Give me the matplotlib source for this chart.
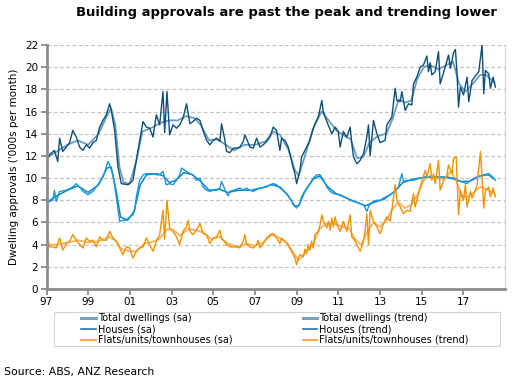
import matplotlib.pyplot as plt
from matplotlib.lines import Line2D
from matplotlib.patches import Rectangle

# Total dwellings, seasonally adjusted ('000s per month)
total_sa_t = [1997.00, 1997.14, 1997.38, 1997.54, 1997.63, 1997.78, 1997.95, 1998.11, 1998.26, 1998.43,
              1998.59, 1998.75, 1998.91, 1999.07, 1999.23, 1999.39, 1999.55, 1999.71, 1999.87, 2000.03,
              2000.11, 2000.27, 2000.43, 2000.59, 2000.91, 2001.15, 2001.31, 2001.63, 2001.79, 2001.95,
              2002.11, 2002.27, 2002.43, 2002.59, 2002.67, 2002.78, 2002.91, 2003.07, 2003.24, 2003.39,
              2003.55, 2003.72, 2003.88, 2004.03, 2004.20, 2004.36, 2004.51, 2004.68, 2004.84, 2005.00,
              2005.16, 2005.32, 2005.40, 2005.56, 2005.64, 2005.80, 2005.96, 2006.12, 2006.28, 2006.44,
              2006.52, 2006.76, 2006.92, 2007.08, 2007.24, 2007.40, 2007.56, 2007.72, 2007.88, 2008.04,
              2008.20, 2008.28, 2008.44, 2008.60, 2008.76, 2008.84, 2008.92, 2009.00, 2009.08, 2009.16,
              2009.24, 2009.48, 2009.64, 2009.72, 2009.88, 2010.04, 2010.21, 2010.28, 2010.45, 2010.69,
              2010.85, 2011.00, 2011.09, 2011.24, 2011.41, 2011.57, 2011.65, 2011.73, 2011.89, 2012.05,
              2012.21, 2012.37, 2012.45, 2012.53, 2012.69, 2012.85, 2013.01, 2013.25, 2013.33, 2013.57,
              2013.73, 2013.81, 2013.97, 2014.05, 2014.21, 2014.37, 2014.53, 2014.61, 2014.77, 2014.93,
              2015.09, 2015.25, 2015.33, 2015.41, 2015.49, 2015.65, 2015.81, 2015.89, 2016.13, 2016.29,
              2016.38, 2016.53, 2016.62, 2016.70, 2016.77, 2016.86, 2017.01, 2017.18, 2017.26, 2017.42,
              2017.66, 2017.74, 2017.90, 2017.98, 2018.06, 2018.22, 2018.30, 2018.43, 2018.54]
total_sa = [11.5, 12.1, 12.5, 11.5, 13.6, 12.4, 12.8, 13.2, 14.3, 13.7,
            12.8, 12.5, 13.0, 12.7, 13.2, 13.4, 14.6, 15.2, 15.7, 16.7,
            16.1, 14.3, 11.0, 9.5, 9.4, 9.8, 11.6, 15.1, 14.6, 14.5,
            13.7, 15.7, 14.8, 17.8, 14.1, 17.8, 13.9, 14.8, 14.5, 14.8,
            15.4, 16.7, 14.9, 15.1, 15.4, 15.2, 14.3, 13.4, 13.0, 13.4,
            13.6, 13.3, 14.9, 13.4, 12.4, 12.3, 12.7, 12.7, 12.8, 13.3,
            13.9, 12.8, 12.7, 13.6, 12.8, 13.0, 13.3, 13.7, 14.6, 14.3,
            12.5, 13.6, 13.4, 12.8, 11.6, 10.9, 10.4, 9.5, 10.1, 10.7,
            11.9, 12.8, 13.4, 14.0, 14.9, 15.5, 17.0, 16.0, 15.1, 14.0,
            14.6, 14.2, 12.8, 14.2, 13.7, 14.6, 13.1, 11.9, 11.3, 11.6,
            12.2, 13.7, 14.8, 12.0, 15.2, 14.0, 13.2, 13.4, 14.8, 15.5,
            18.1, 17.0, 16.9, 17.8, 16.1, 16.7, 16.6, 18.5, 19.1, 20.0,
            20.2, 21.0, 19.6, 20.4, 19.3, 19.6, 21.4, 18.5, 20.0, 21.1,
            19.9, 21.3, 21.6, 19.4, 16.4, 18.2, 17.5, 19.1, 16.9, 18.8,
            19.4, 19.6, 22.0, 17.6, 19.7, 19.4, 18.1, 19.1, 18.2]

# Total dwellings, trend
total_tr_t = [1997.0, 1997.5, 1998.0, 1998.5, 1999.0, 1999.5, 1999.9, 2000.1, 2000.3, 2000.5,
              2000.7, 2001.0, 2001.3, 2001.6, 2002.0, 2002.5, 2002.9, 2003.3, 2003.7, 2004.1,
              2004.4, 2004.8, 2005.2, 2005.6, 2006.0, 2006.5, 2007.0, 2007.5, 2007.9, 2008.2,
              2008.6, 2008.9, 2009.1, 2009.4, 2009.8, 2010.2, 2010.5, 2010.9, 2011.3, 2011.6,
              2011.9, 2012.2, 2012.5, 2012.9, 2013.3, 2013.6, 2013.9, 2014.2, 2014.5, 2014.8,
              2015.1, 2015.4, 2015.8, 2016.2, 2016.5, 2016.8, 2017.1, 2017.5, 2017.8, 2018.1,
              2018.5]
total_tr = [11.8, 12.4, 13.0, 13.4, 13.0, 14.0, 15.6, 16.3, 14.8, 11.0,
            9.6, 9.5, 11.5, 14.2, 14.5, 15.0, 15.2, 15.2, 15.6, 15.4,
            14.8, 13.4, 13.5, 13.0, 12.5, 13.0, 13.0, 13.3, 14.2, 13.9,
            12.6, 10.8, 10.2, 12.0, 14.5, 16.0, 15.3, 14.3, 13.8, 13.5,
            11.8, 11.9, 13.2, 13.8, 14.0, 15.3, 17.1, 16.8, 17.0, 19.0,
            20.0, 20.2, 19.8, 20.2, 20.5, 18.5, 17.8, 18.6, 19.3, 19.3,
            18.6]

# Houses, seasonally adjusted
houses_sa_t = [1997.00, 1997.14, 1997.30, 1997.38, 1997.47, 1997.63, 1997.95, 1998.26, 1998.43, 1998.59,
               1998.75, 1998.99, 1999.23, 1999.47, 1999.71, 1999.87, 1999.95, 2000.03, 2000.19, 2000.35,
               2000.51, 2000.67, 2000.83, 2000.99, 2001.15, 2001.23, 2001.31, 2001.47, 2001.63, 2001.79,
               2002.11, 2002.27, 2002.43, 2002.59, 2002.75, 2002.91, 2003.07, 2003.24, 2003.39, 2003.48,
               2003.72, 2003.88, 2004.03, 2004.20, 2004.36, 2004.51, 2004.68, 2004.84, 2005.00, 2005.16,
               2005.32, 2005.40, 2005.64, 2005.72, 2005.80, 2005.96, 2006.28, 2006.44, 2006.60, 2006.76,
               2006.92, 2007.24, 2007.56, 2007.72, 2007.88, 2008.04, 2008.20, 2008.36, 2008.52, 2008.68,
               2008.84, 2009.00, 2009.16, 2009.24, 2009.32, 2009.48, 2009.64, 2009.80, 2009.97, 2010.13,
               2010.29, 2010.45, 2010.61, 2010.76, 2011.09, 2011.41, 2011.57, 2011.73, 2012.05, 2012.21,
               2012.37, 2012.45, 2012.53, 2012.69, 2012.85, 2013.01, 2013.17, 2013.49, 2013.73, 2013.89,
               2014.05, 2014.13, 2014.29, 2014.61, 2014.93, 2015.25, 2015.57, 2015.89, 2016.22, 2016.53,
               2016.86, 2017.18, 2017.34, 2017.66, 2017.98, 2018.22, 2018.46, 2018.54]
houses_sa = [7.6, 7.9, 8.0, 8.9, 7.9, 8.8, 8.9, 9.2, 9.5, 9.2,
             8.8, 8.5, 8.8, 9.4, 10.1, 11.0, 11.5, 11.2, 10.3, 8.3,
             6.1, 6.2, 6.2, 6.5, 6.7, 7.1, 8.3, 9.8, 10.3, 10.4,
             10.4, 10.3, 10.3, 10.6, 9.4, 9.5, 9.4, 9.8, 10.3, 10.9,
             10.6, 10.4, 10.3, 9.8, 10.0, 9.2, 8.9, 8.8, 8.9, 8.9,
             9.1, 9.7, 8.6, 8.4, 8.8, 8.9, 9.1, 8.9, 9.1, 8.9,
             8.8, 9.1, 9.2, 9.4, 9.5, 9.4, 9.1, 8.9, 8.6, 8.2,
             7.6, 7.3, 7.7, 8.3, 8.6, 9.1, 9.5, 10.0, 10.3, 10.3,
             9.8, 9.2, 8.8, 8.6, 8.5, 8.2, 8.0, 7.9, 7.7, 7.6,
             7.0, 7.4, 7.7, 7.9, 8.0, 8.0, 8.2, 8.5, 8.8, 9.2,
             10.4, 9.7, 9.8, 9.8, 10.0, 10.1, 10.1, 10.1, 10.1, 10.0,
             9.7, 9.5, 9.8, 10.1, 10.3, 10.4, 10.0, 9.8]

# Houses, trend
houses_tr_t = [1997.0, 1997.5, 1998.0, 1998.5, 1999.0, 1999.5, 1999.9, 2000.1, 2000.35, 2000.55,
               2000.9, 2001.2, 2001.5, 2001.8, 2002.3, 2002.6, 2002.9, 2003.2, 2003.6, 2004.0,
               2004.4, 2004.8, 2005.3, 2005.7, 2006.2, 2006.8, 2007.3, 2007.8, 2008.2, 2008.6,
               2008.9, 2009.1, 2009.4, 2009.8, 2010.1, 2010.5, 2010.9, 2011.4, 2011.9, 2012.3,
               2012.7, 2013.2, 2013.7, 2014.1, 2014.6, 2015.2, 2015.8, 2016.4, 2016.9, 2017.3,
               2017.8, 2018.2, 2018.5]
houses_tr = [7.8, 8.4, 8.9, 9.3, 8.7, 9.4, 10.9, 11.0, 8.8, 6.5,
             6.2, 7.0, 9.4, 10.3, 10.4, 10.2, 9.6, 9.8, 10.5, 10.3,
             9.7, 8.9, 9.0, 8.7, 8.9, 8.9, 9.1, 9.4, 9.2, 8.4,
             7.5, 7.5, 8.8, 9.9, 10.2, 9.2, 8.6, 8.2, 7.8, 7.5,
             7.8, 8.1, 8.8, 9.6, 9.9, 10.1, 10.1, 10.0, 9.7, 9.7,
             10.2, 10.3, 9.9]

# Flats/units/townhouses, seasonally adjusted
flats_sa_t = [1997.00, 1997.06, 1997.14, 1997.30, 1997.47, 1997.63, 1997.78, 1997.95, 1998.11, 1998.26,
              1998.43, 1998.59, 1998.75, 1998.91, 1999.07, 1999.23, 1999.39, 1999.55, 1999.71, 1999.87,
              2000.03, 2000.19, 2000.35, 2000.51, 2000.67, 2000.83, 2000.99, 2001.15, 2001.31, 2001.47,
              2001.63, 2001.79, 2001.95, 2002.11, 2002.27, 2002.43, 2002.59, 2002.67, 2002.78, 2002.91,
              2003.07, 2003.24, 2003.39, 2003.55, 2003.72, 2003.80, 2003.88, 2004.03, 2004.20, 2004.36,
              2004.51, 2004.68, 2004.84, 2005.00, 2005.16, 2005.32, 2005.40, 2005.64, 2005.80, 2006.12,
              2006.28, 2006.44, 2006.52, 2006.60, 2006.76, 2006.92, 2007.08, 2007.16, 2007.24, 2007.40,
              2007.56, 2007.72, 2007.88, 2008.04, 2008.20, 2008.28, 2008.44, 2008.60, 2008.76, 2008.92,
              2009.00, 2009.08, 2009.16, 2009.32, 2009.40, 2009.48, 2009.56, 2009.64, 2009.72, 2009.80,
              2009.88, 2010.04, 2010.13, 2010.21, 2010.28, 2010.45, 2010.53, 2010.61, 2010.69, 2010.76,
              2010.85, 2010.93, 2011.09, 2011.24, 2011.41, 2011.57, 2011.65, 2011.81, 2011.97, 2012.05,
              2012.21, 2012.29, 2012.37, 2012.45, 2012.53, 2012.69, 2012.85, 2013.01, 2013.17, 2013.33,
              2013.49, 2013.57, 2013.73, 2013.81, 2013.97, 2014.13, 2014.29, 2014.45, 2014.61, 2014.69,
              2014.85, 2015.01, 2015.17, 2015.25, 2015.41, 2015.49, 2015.57, 2015.65, 2015.81, 2015.89,
              2016.05, 2016.22, 2016.29, 2016.46, 2016.53, 2016.66, 2016.77, 2016.86, 2017.01, 2017.10,
              2017.18, 2017.34, 2017.42, 2017.58, 2017.66, 2017.82, 2017.90, 2017.98, 2018.06, 2018.22,
              2018.30, 2018.43, 2018.54]
flats_sa = [4.0, 4.6, 3.8, 3.8, 3.7, 4.6, 3.5, 4.1, 4.3, 4.9,
            4.4, 4.0, 3.7, 4.6, 4.3, 4.4, 3.8, 4.7, 4.4, 4.4,
            5.2, 4.6, 4.3, 3.7, 3.1, 3.8, 3.7, 2.8, 3.4, 3.7,
            3.8, 4.6, 4.0, 3.4, 4.3, 4.9, 7.1, 4.5, 8.0, 5.5,
            5.2, 4.7, 4.0, 5.2, 5.6, 6.2, 5.2, 4.9, 5.3, 5.9,
            5.0, 4.9, 4.1, 4.6, 4.7, 5.3, 4.6, 4.0, 3.8, 3.8,
            3.7, 4.3, 4.9, 4.0, 3.8, 3.7, 4.0, 4.4, 3.7, 4.1,
            4.6, 4.9, 5.0, 4.6, 4.1, 4.6, 4.3, 4.0, 3.4, 2.8,
            2.2, 2.8, 3.1, 2.9, 3.6, 3.2, 4.0, 3.5, 4.3, 3.7,
            4.9, 5.2, 5.8, 6.7, 6.1, 5.5, 6.1, 5.3, 6.4, 5.6,
            6.5, 5.8, 5.2, 6.1, 5.2, 6.7, 4.7, 4.3, 3.7, 3.4,
            4.3, 5.3, 6.8, 4.0, 7.1, 6.1, 5.6, 5.0, 5.9, 6.5,
            6.1, 7.1, 9.4, 8.0, 7.4, 6.8, 7.1, 7.0, 8.6, 7.4,
            8.6, 9.7, 10.7, 10.1, 11.3, 9.8, 10.4, 9.5, 11.6, 8.9,
            9.8, 10.3, 11.2, 10.4, 11.8, 11.9, 6.7, 8.9, 8.0, 9.4,
            7.4, 8.8, 8.2, 8.9, 9.4, 12.4, 10.0, 7.3, 8.9, 9.2,
            8.3, 9.1, 8.3]

# Flats/units/townhouses, trend
flats_tr_t = [1997.0, 1997.5, 1998.0, 1998.5, 1999.0, 1999.5, 2000.0, 2000.3, 2000.6, 2001.0,
              2001.3, 2001.7, 2002.0, 2002.4, 2002.8, 2003.1, 2003.4, 2003.8, 2004.2, 2004.5,
              2004.9, 2005.3, 2005.7, 2006.2, 2006.6, 2007.0, 2007.4, 2007.8, 2008.1, 2008.5,
              2008.9, 2009.1, 2009.4, 2009.8, 2010.1, 2010.4, 2010.8, 2011.2, 2011.5, 2011.8,
              2012.1, 2012.4, 2012.7, 2013.0, 2013.3, 2013.6, 2013.9, 2014.2, 2014.5, 2014.8,
              2015.1, 2015.4, 2015.8, 2016.1, 2016.4, 2016.7, 2016.9, 2017.2, 2017.5, 2017.8,
              2018.1, 2018.5]
flats_tr = [4.0, 4.0, 4.2, 4.4, 4.2, 4.3, 4.7, 4.4, 3.6, 3.4,
            3.4, 4.1, 4.2, 4.5, 5.4, 5.3, 4.8, 5.4, 5.3, 5.1,
            4.5, 4.7, 4.1, 3.8, 4.1, 3.9, 4.2, 4.9, 4.7, 4.2,
            3.1, 2.6, 3.2, 4.1, 5.4, 5.9, 5.9, 5.6, 5.5, 4.5,
            4.0, 5.2, 6.0, 5.6, 6.2, 7.2, 7.8, 7.3, 7.6, 8.5,
            9.8, 10.2, 10.0, 9.9, 10.6, 9.6, 8.4, 8.3, 8.7, 9.2,
            9.0, 8.6]

year_ticks = [1997, 1999, 2001, 2003, 2005, 2007, 2009, 2011, 2013, 2015, 2017]
year_labels = ["97", "99", "01", "03", "05", "07", "09", "11", "13", "15", "17"]

plt.rcParams["font.family"] = "DejaVu Sans"

fig = plt.figure(figsize=(5.15, 3.92), dpi=100)
ax = fig.add_axes([46.5 / 515, 1 - 289 / 392, (505 - 46.5) / 515, (289 - 45) / 392])

# trend lines
ax.plot(total_tr_t, total_tr, color="#6b9cc0", lw=1.3)
ax.plot(houses_tr_t, houses_tr, color="#0b86c8", lw=1.1)
ax.plot(flats_tr_t, flats_tr, color="#f8b160", lw=1.3)
# seasonally adjusted lines
ax.plot(total_sa_t, total_sa, color="#0c4f78", lw=1.0)
ax.plot(houses_sa_t, houses_sa, color="#1a98d8", lw=1.0)
ax.plot(flats_sa_t, flats_sa, color="#f39200", lw=1.0)

ax.set_xlim(1997, 2019)
ax.set_ylim(0, 22)
ax.set_yticks(range(0, 23, 2))
ax.set_xticks(year_ticks)
ax.set_xticklabels(year_labels)
ax.tick_params(axis="both", labelsize=7.5, color="#808080", length=4, width=1.2, pad=2)
ax.yaxis.grid(True, color="#c4c4c4", linestyle=(0, (3, 2)), lw=0.9)
ax.set_axisbelow(True)

for s in ["left", "bottom"]:
    ax.spines[s].set_color("#8c8c8c")
    ax.spines[s].set_linewidth(2)
ax.spines["top"].set_visible(False)
ax.spines["right"].set_color("#d8d8d8")
ax.spines["right"].set_linewidth(1)

ax.set_ylabel("Dwelling approvals ('000s per month)", fontsize=7.5, labelpad=4)

fig.text(0.965, 0.968, "Building approvals are past the peak and trending lower",
         fontsize=9.45, fontweight="bold", ha="right", va="center")
fig.text(0.008, 0.05, "Source: ABS, ANZ Research", fontsize=7.8, ha="left", va="center")

# legend box and entries
fig.patches.append(Rectangle((54 / 515, 1 - 346 / 392), 446 / 515, 34 / 392,
                             transform=fig.transFigure, fill=False,
                             edgecolor="#d4d4d4", lw=0.8))
handles = [
    Line2D([], [], color="#7aa3bf", lw=2.2),
    Line2D([], [], color="#2473a8", lw=1.2),
    Line2D([], [], color="#f7941d", lw=1.2),
    Line2D([], [], color="#7aa3bf", lw=2.2),
    Line2D([], [], color="#2473a8", lw=1.2),
    Line2D([], [], color="#f7941d", lw=1.2),
]
labels = ["Total dwellings (sa)", "Houses (sa)", "Flats/units/townhouses (sa)",
          "Total dwellings (trend)", "Houses (trend)", "Flats/units/townhouses (trend)"]
fig.legend(handles, labels, ncol=2, loc="center", bbox_to_anchor=(275 / 515, 1 - 329 / 392),
           frameon=False, fontsize=7, handlelength=1.5, handletextpad=0.2,
           labelspacing=0.1, columnspacing=7.2, borderpad=0)

fig.savefig("out.png", dpi=100)
